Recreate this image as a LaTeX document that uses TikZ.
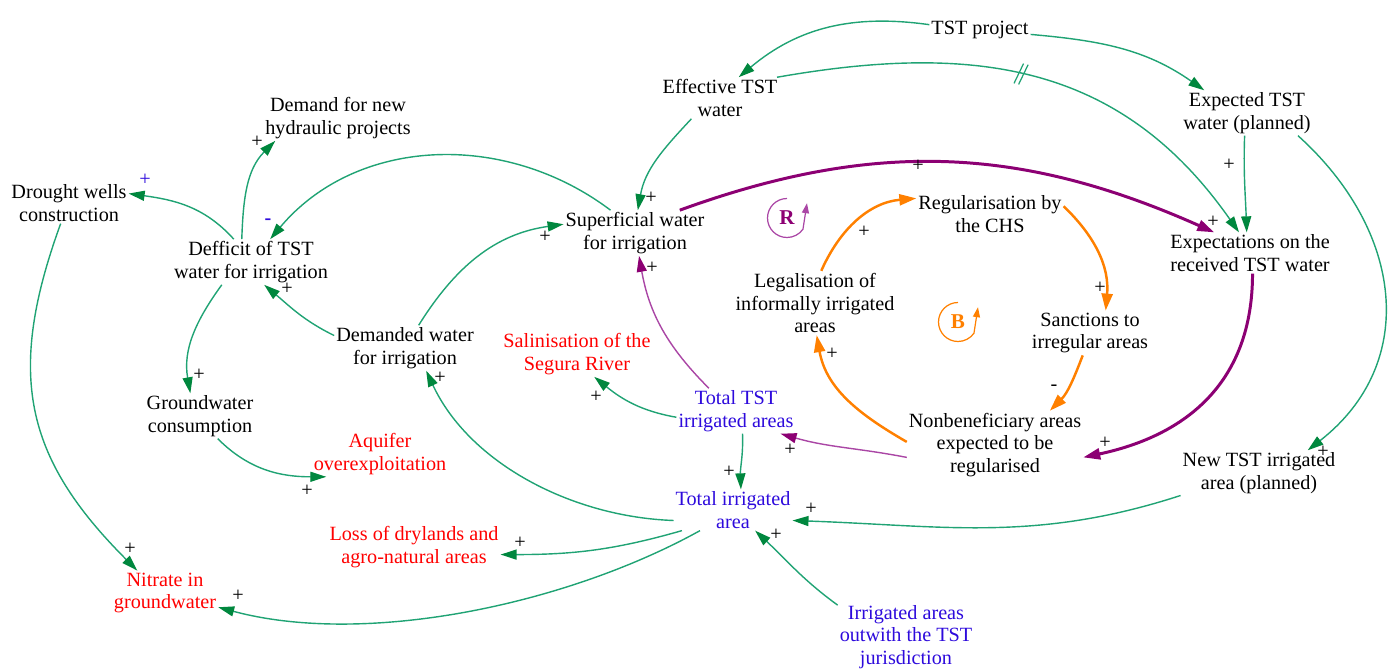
\documentclass[tikz,border=0pt]{standalone}
\usepackage{fontspec}
\setmainfont{Liberation Serif}
\usetikzlibrary{arrows.meta}
\definecolor{lgreen}{RGB}{32,163,116}
\definecolor{hgreen}{RGB}{0,135,62}
\definecolor{dpurple}{RGB}{140,0,115}
\definecolor{lpurple}{RGB}{170,70,165}
\definecolor{orng}{RGB}{255,128,0}
\definecolor{vblue}{RGB}{45,10,220}
\definecolor{vred}{RGB}{255,0,0}
\begin{document}
\begin{tikzpicture}[x=0.2mm,y=0.2mm,font=\fontsize{11.5}{13}\selectfont,
	var/.style={align=center,inner sep=1pt},
	blu/.style={var,text=vblue},
	rd/.style={var,text=vred},
	sgn/.style={inner sep=0pt},
	gl/.style={draw=lgreen,line width=0.8pt,-{Triangle[length=3.2mm,width=2mm,color=hgreen]}},
	pl/.style={draw=dpurple,line width=1.7pt,-{Triangle[length=3.4mm,width=2.2mm,color=dpurple]}},
	tpl/.style={draw=lpurple,line width=0.8pt,-{Triangle[length=3.2mm,width=2mm,color=dpurple]}},
	ol/.style={draw=orng,line width=1.4pt,-{Triangle[length=3.4mm,width=2.2mm,color=orng]}}]
	\useasboundingbox (0,0) rectangle (1394,670);
	\node (TP)  at ( 980,640)	[var]	{TST project};
	\node (ETW) at ( 720,572)	[var]	{Effective TST\\water};
	\node (EXP) at (1247,557)	[var]	{Expected TST\\water (planned)};
	\node (DNH) at ( 338,552)	[var]	{Demand for new\\hydraulic projects};
	\node (DWC) at (  69,467)	[var]	{Drought wells\\construction};
	\node (DEF) at ( 251,408)	[var]	{Defficit of TST\\water for irrigation};
	\node (SUP) at ( 635,437)	[var]	{Superficial water\\for irrigation};
	\node (REG) at ( 990,456)	[var]	{Regularisation by\\the CHS};
	\node (EXR) at (1250,417)	[var]	{Expectations on the\\received TST water};
	\node (LEG) at ( 815,367)	[var]	{Legalisation of\\informally irrigated\\areas};
	\node (SAN) at (1090,337)	[var]	{Sanctions to\\irregular areas};
	\node (DEM) at ( 405,322)	[var]	{Demanded water\\for irrigation};
	\node (SAL) at ( 577,316)	[rd]	{Salinisation of the\\Segura River};
	\node (GWC) at ( 200,254)	[var]	{Groundwater\\consumption};
	\node (TTI) at ( 736,259)	[blu]	{Total TST\\irrigated areas};
	\node (AQU) at ( 380,216)	[rd]	{Aquifer\\overexploitation};
	\node (NON) at ( 995,225)	[var]	{Nonbeneficiary areas\\expected to be\\regularised};
	\node (NEW) at (1259,197)	[var]	{New TST irrigated\\area (planned)};
	\node (TIA) at ( 733,160)	[blu]	{Total irrigated\\area};
	\node (LOS) at ( 414,123)	[rd]	{Loss of drylands and\\agro-natural areas};
	\node (NIT) at ( 165, 77)	[rd]	{Nitrate in\\groundwater};
	\node (IRR) at ( 906, 33)	[blu]	{Irrigated areas\\outwith the TST\\jurisdiction};
	\node (R) at (787,452)	[text=dpurple,font=\fontsize{12}{14}\selectfont\bfseries]	{R};
	\node (B) at (958,348)	[text=orng,font=\fontsize{12}{14}\selectfont\bfseries]	{B};
	\draw[lpurple,line width=0.7pt,-{Triangle[length=2mm,width=1.4mm]}] ([yshift=3.9mm]R.center) arc[start angle=90,end angle=325,radius=3.9mm] -- ++(0.8mm,5.2mm);
	\draw[orng,line width=0.7pt,-{Triangle[length=2mm,width=1.4mm]}] ([yshift=3.9mm]B.center) arc[start angle=90,end angle=325,radius=3.9mm] -- ++(0.8mm,5.2mm);
	\draw[gl] (TP.174) to[out=172,in=40] (ETW.48);
	\draw[gl] (TP.-5) to[out=-5,in=145] (EXP.152);
	\draw[gl] (ETW.20) to[out=10,in=125,looseness=1.07] node[pos=0.46,sloped,inner sep=0pt,minimum width=1.6mm,minimum height=4mm] (DLY) {} (EXR.118);
	\draw[lgreen,line width=0.7pt] (DLY.south west) -- (DLY.north) (DLY.south) -- (DLY.north east);
	\draw[gl] (EXP.-96) to[out=-92,in=92] (EXR.99);
	\draw[gl] (EXP.-24) to[out=-42,in=38,looseness=1.15] (NEW.25);
	\draw[pl] (EXR.-83) to[out=-90,in=12,looseness=1.1] (NON.-8);
	\draw[pl] (SUP.27) to[out=20,in=156] (EXR.150);
	\draw[gl] (ETW.216) to[out=227,in=80] (SUP.83);
	\draw[gl] (SUP.137) to[out=143,in=50] (DEF.50);
	\draw[gl] (DEM.59) to[out=58,in=188] (SUP.173);
	\draw[gl] (DEM.170) to[out=154,in=-40] (DEF.-60);
	\draw[gl] (DEF.127) to[out=132,in=-8] (DWC.9);
	\draw[gl] (DEF.112) to[out=88,in=225] (DNH.200);
	\draw[gl] (DEF.218) to[out=234,in=100] (GWC.113);
	\draw[gl] (GWC.-52) to[out=-45,in=180] (AQU.203);
	\draw[gl] (DWC.248) to[out=250,in=135,looseness=1.15] (NIT.141);
	\draw[gl] (TIA.212) to[out=209,in=-15,looseness=0.8] (NIT.-15);
	\draw[gl] (TIA.202) to[out=196,in=0] (LOS.-5);
	\draw[gl] (TIA.190) to[out=178,in=-65,looseness=0.9] (DEM.-47);
	\draw[gl] (TTI.186) to[out=170,in=-39] (SAL.-53);
	\draw[tpl] (TTI.140) to[out=135,in=-80] (SUP.-80);
	\draw[gl] (TTI.-74) to[out=-88,in=92] (TIA.69);
	\draw[tpl] (NON.188) to[out=169,in=-16] (TTI.-27);
	\draw[ol] (NON.178) to[out=150,in=-80] (LEG.-87);
	\draw[ol] (LEG.79) to[out=66,in=185] (REG.168);
	\draw[ol] (REG.6) to[out=-44,in=85] (SAN.55);
	\draw[ol] (SAN.252) to[out=249,in=45] (NON.32);
	\draw[gl] (NEW.196) to[out=198,in=-2] (TIA.-10);
	\draw[gl] (IRR.155) to[out=144,in=-43] (TIA.-43);
	\node (s1)  at ( 651,472)	[sgn]	{+};
	\node (s2)  at ( 918,504)	[sgn]	{+};
	\node (s3)  at (1213,448)	[sgn]	{+};
	\node (s4)  at (1229,505)	[sgn]	{+};
	\node (s5)  at (1323,218)	[sgn]	{+};
	\node (s6)  at (1105,227)	[sgn]	{+};
	\node (s7)  at ( 268,448)	[sgn,text=vblue,font=\fontsize{11.5}{13}\selectfont\bfseries]	{-};
	\node (s8)  at ( 545,433)	[sgn]	{+};
	\node (s9)  at ( 287,381)	[sgn]	{+};
	\node (s10) at ( 145,490)	[sgn,text=vblue]	{+};
	\node (s11) at ( 257,528)	[sgn]	{+};
	\node (s12) at ( 199,295)	[sgn]	{+};
	\node (s13) at ( 307,179)	[sgn]	{+};
	\node (s14) at ( 130,121)	[sgn]	{+};
	\node (s15) at ( 238, 74)	[sgn]	{+};
	\node (s16) at ( 520,127)	[sgn]	{+};
	\node (s17) at ( 440,292)	[sgn]	{+};
	\node (s18) at ( 596,273)	[sgn]	{+};
	\node (s19) at ( 652,402)	[sgn]	{+};
	\node (s20) at ( 729,198)	[sgn]	{+};
	\node (s21) at ( 790,220)	[sgn]	{+};
	\node (s22) at ( 832,316)	[sgn]	{+};
	\node (s23) at ( 864,438)	[sgn]	{+};
	\node (s24) at (1100,382)	[sgn]	{+};
	\node (s25) at (1054,282)	[sgn]	{-};
	\node (s26) at ( 811,161)	[sgn]	{+};
	\node (s27) at ( 776,135)	[sgn]	{+};
\end{tikzpicture}
\end{document}
